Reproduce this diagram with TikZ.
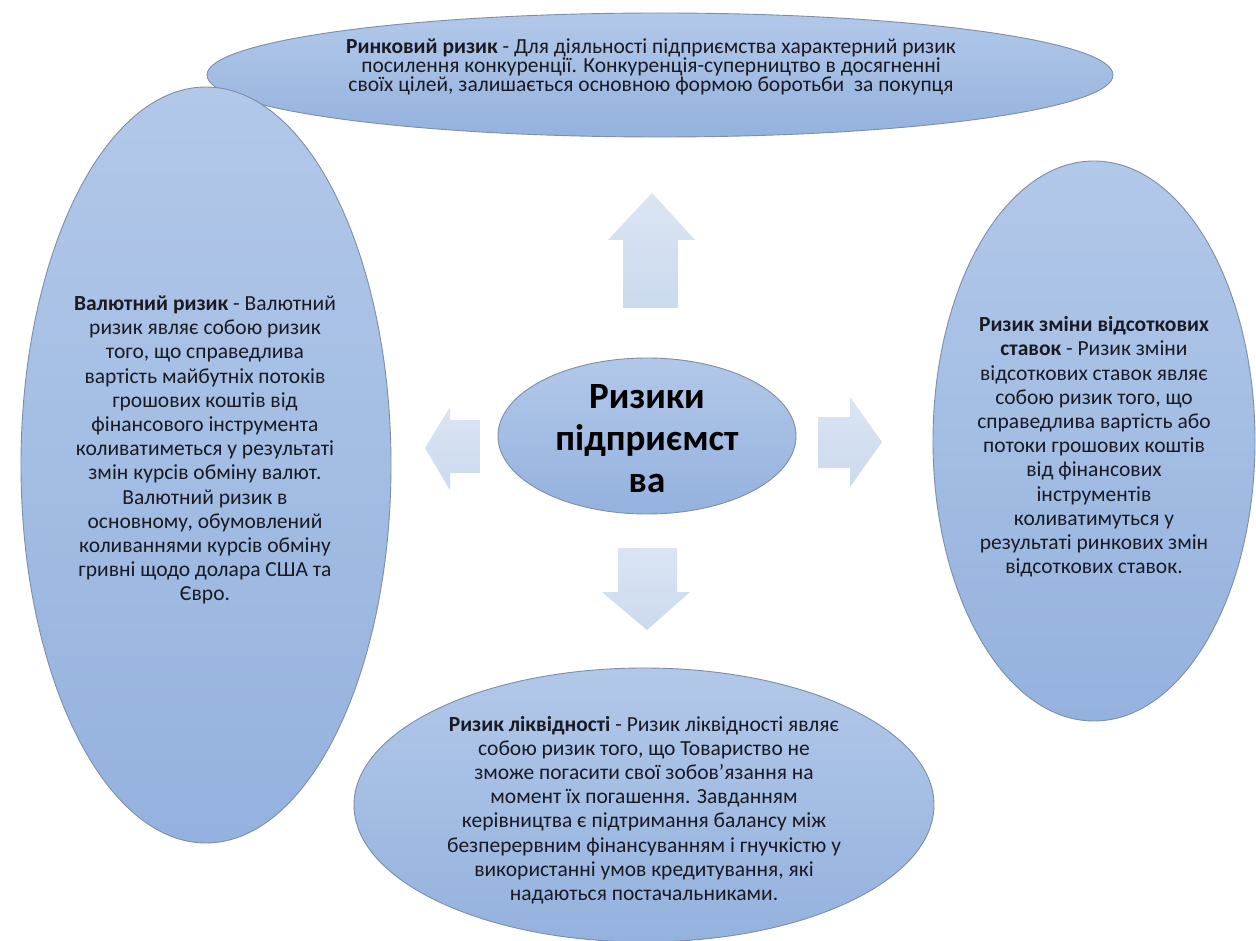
\documentclass[tikz,border=0pt]{standalone}
\usepackage{fontspec}
\setmainfont{Carlito}
\usetikzlibrary{shapes.geometric}
\definecolor{elltop}{HTML}{B2C8E9}
\definecolor{ellbot}{HTML}{94B2DE}
\definecolor{elldraw}{HTML}{7D8EA8}
\definecolor{arrtop}{HTML}{DAE4F3}
\definecolor{arrbot}{HTML}{CCDAEE}
\definecolor{txt}{HTML}{1A1A22}
\tikzset{
  riskell/.style={ellipse, draw=elldraw, line width=0.9pt, top color=elltop, bottom color=ellbot, inner sep=0pt},
  blockarrow/.style={top color=arrtop, bottom color=arrbot, draw=none},
  risktext/.style={align=center, text=txt, inner sep=0pt, font=\fontsize{21.5}{24.2}\selectfont},
  toptext/.style={align=center, text=txt, inner sep=0pt, font=\fontsize{21.5}{18}\selectfont},
  centertext/.style={align=center, text=black, inner sep=0pt, font=\bfseries\fontsize{37}{42}\selectfont}
}
\begin{document}
\begin{tikzpicture}[x=1pt,y=-1pt]
\useasboundingbox (0,0) rectangle (1256,941);
\fill[white] (0,0) rectangle (1256,941);
% ellipses
\node[riskell, minimum width=906, minimum height=124] (market) at (660,75) {};
\node[riskell, minimum width=370, minimum height=756] (currency) at (206,465) {};
\node[riskell, minimum width=322, minimum height=560] (interest) at (1094,441) {};
\node[riskell, minimum width=580, minimum height=274] (liquidity) at (644,805) {};
\node[riskell, minimum width=298, minimum height=156] (center) at (647,436) {};
% block arrows
\path[blockarrow] (623,308) -- (623,240) -- (608,240) -- (652,193) -- (695,240) -- (678,240) -- (678,308) -- cycle;
\path[blockarrow] (618,548) -- (677,548) -- (677,592) -- (690,592) -- (647,630) -- (602,592) -- (618,592) -- cycle;
\path[blockarrow] (480,420) -- (450,420) -- (450,407) -- (425,448) -- (450,490) -- (450,473) -- (480,473) -- cycle;
\path[blockarrow] (818,417) -- (850,417) -- (850,397) -- (882,442) -- (850,487) -- (850,468) -- (818,468) -- cycle;
% texts
\node[toptext] (markettext) at (651,67) {\textbf{Ринковий ризик} - Для діяльності підприємства характерний ризик\\посилення конкуренції. Конкуренція-суперництво в досягненні\\своїх цілей, залишається основною формою боротьби\ \ за покупця};
\node[risktext] (currencytext) at (205,450) {\textbf{Валютний ризик} - Валютний\\ризик являє собою ризик\\того, що справедлива\\вартість майбутніх потоків\\грошових коштів від\\фінансового інструмента\\коливатиметься у результаті\\змін курсів обміну валют.\\Валютний ризик в\\основному, обумовлений\\коливаннями курсів обміну\\гривні щодо долара США та\\Євро.};
\node[risktext] (interesttext) at (1094,447) {\textbf{Ризик зміни відсоткових}\\\textbf{ставок} - Ризик зміни\\відсоткових ставок являє\\собою ризик того, що\\справедлива вартість або\\потоки грошових коштів\\від фінансових\\інструментів\\коливатимуться у\\результаті ринкових змін\\відсоткових ставок.};
\node[risktext] (liquiditytext) at (644,810) {\textbf{Ризик ліквідності} - Ризик ліквідності являє\\собою ризик того, що Товариство не\\зможе погасити свої зобов’язання на\\момент їх погашення. Завданням\\керівництва є підтримання балансу між\\безперервним фінансуванням і гнучкістю у\\використанні умов кредитування, які\\надаються постачальниками.};
\node[centertext] (centertextnode) at (647,439) {Ризики\\підприємст\\ва};
\end{tikzpicture}
\end{document}
